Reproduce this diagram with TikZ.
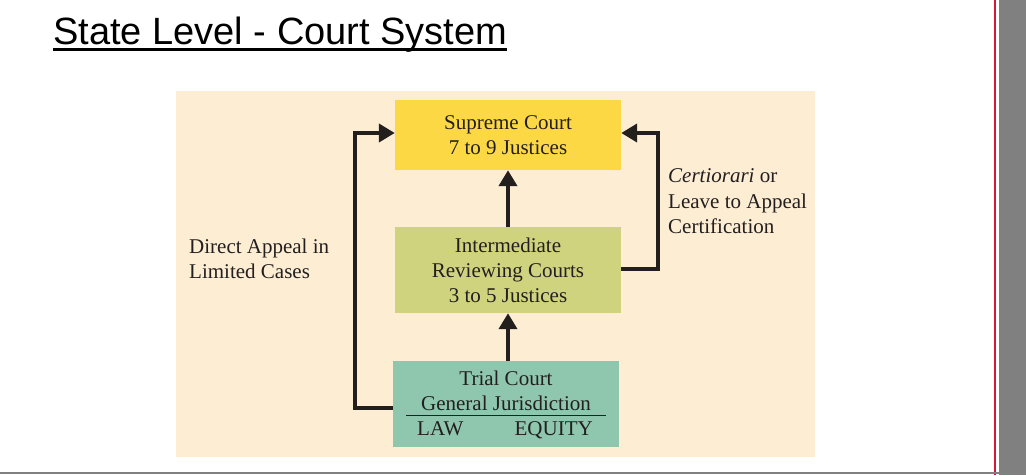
\documentclass[tikz,border=0pt]{standalone}
\usepackage{fontspec}
\setmainfont{Liberation Serif}
\newfontfamily\titlefont{Liberation Sans}
\usetikzlibrary{arrows.meta}
\definecolor{panelc}{RGB}{253,237,211}
\definecolor{supc}{RGB}{253,216,69}
\definecolor{intc}{RGB}{208,211,125}
\definecolor{trialc}{RGB}{142,199,174}
\definecolor{arrowc}{RGB}{35,31,28}
\definecolor{textc}{RGB}{35,31,32}
\definecolor{edgered}{RGB}{215,20,60}
\definecolor{edgegray}{RGB}{128,128,128}
\tikzset{
  diagfont/.style={font=\fontsize{21}{25}\selectfont, text=textc},
  box/.style={diagfont, minimum width=226pt, inner sep=0pt, align=center, draw=none},
  txt/.style={diagfont, inner sep=0pt},
  arr/.style={draw=arrowc, line width=4pt, -{Triangle[length=16pt,width=18pt]}},
  titlestyle/.style={font=\titlefont\fontsize{38}{40}\selectfont, inner sep=0pt, anchor=base west}
}
\begin{document}
\begin{tikzpicture}[x=1pt,y=-1pt]
\useasboundingbox (0,0) rectangle (1026,475);
\fill[white] (0,0) rectangle (1026,475);
\fill[edgegray] (999,0) rectangle (1026,475);
\draw[edgered, line width=2pt] (994.5,0) -- (994.5,475);
\draw[edgegray, line width=1.6pt] (0,473) -- (999,473);
% title
\node[titlestyle] (title) at (53,44) {State Level - Court System};
\draw[line width=2.6pt] ([yshift=-5.3pt]title.base west) -- ([yshift=-5.3pt]title.base east);
% panel
\node[fill=panelc, minimum width=639pt, minimum height=366pt, inner sep=0pt] (panel) at (495.5,274) {};
% boxes
\node[box, fill=supc, minimum height=70pt] (sup) at (508,135) {Supreme Court\\7 to 9 Justices};
\node[box, fill=intc, minimum height=86pt] (int) at (508,270) {Intermediate\\Reviewing Courts\\3 to 5 Justices};
\node[box, fill=trialc, minimum height=86pt] (trial) at (506,404) {};
\node[txt, anchor=base] (trialtop) at (506,385) {Trial Court};
\node[txt, anchor=base] (trialgj) at (506,410.5) {General Jurisdiction};
\draw[textc, line width=1.2pt] (406,415.3) -- (606,415.3);
\node[txt, anchor=base west] (law) at (417,435) {LAW};
\node[txt, anchor=base east] (equity) at (593,435) {EQUITY};
% side labels
\node[txt, anchor=base west] (da1) at (189,253) {Direct Appeal in};
\node[txt, anchor=base west] (da2) at (189,278) {Limited Cases};
\node[txt, anchor=base west] (ce1) at (668,182.5) {\textit{Certiorari} or};
\node[txt, anchor=base west] (ce2) at (668,208) {Leave to Appeal};
\node[txt, anchor=base west] (ce3) at (668,233.5) {Certification};
% connectors
\coordinate (lbend) at (355,133);
\coordinate (rbend) at (658,133);
\draw[arr] (int.north) -- (sup.south);
\draw[arr] (trial.north -| int.south) -- (int.south);
\draw[arr] ([yshift=-4pt]trial.west) -| (lbend) -- ([yshift=2pt]sup.west);
\draw[arr] ([yshift=1pt]int.east) -| (rbend) -- ([yshift=2pt]sup.east);
\end{tikzpicture}
\end{document}
